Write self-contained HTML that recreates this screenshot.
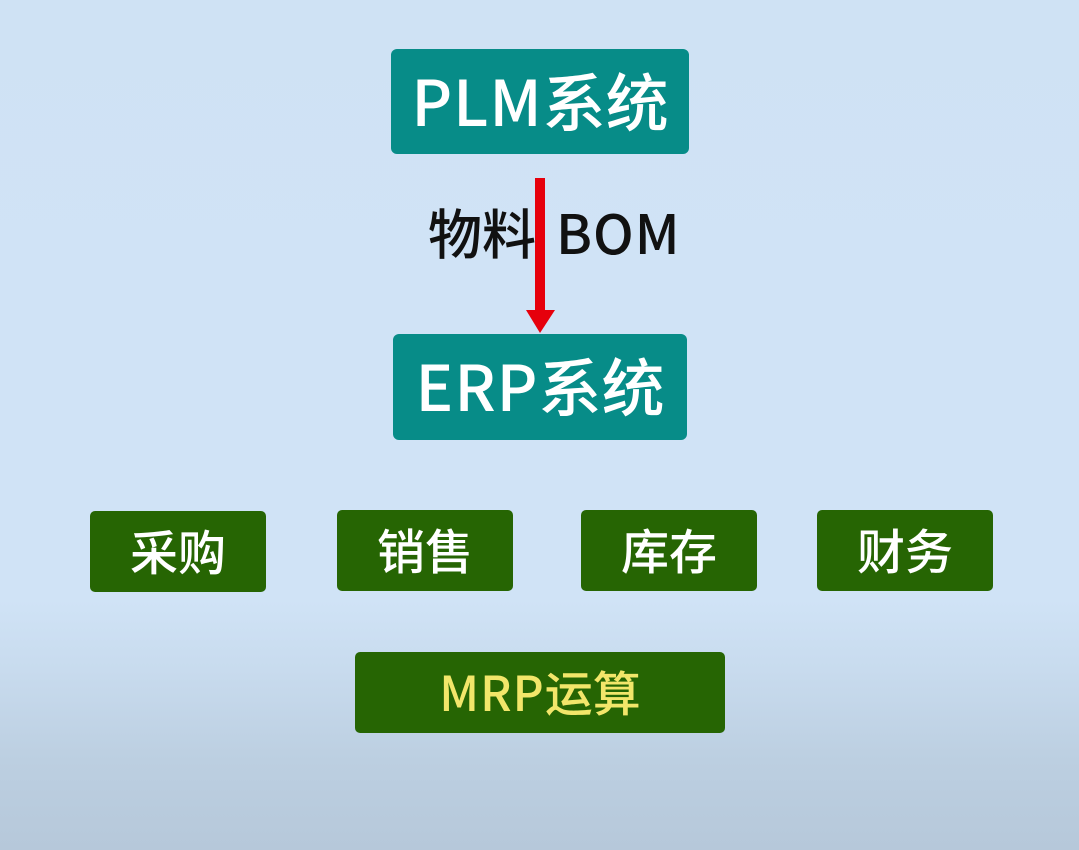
<!DOCTYPE html>
<html>
<head>
<meta charset="utf-8">
<style>
html,body{margin:0;padding:0}
body{width:1079px;height:850px;position:relative;overflow:hidden;
background:linear-gradient(180deg,#cfe2f4 0px,#d0e3f6 300px,#d0e3f6 600px,#c8dbee 670px,#bccfe1 760px,#b6c8da 850px);
font-family:"Noto Sans CJK SC","Liberation Sans",sans-serif;font-weight:500}
.b{position:absolute;display:flex;align-items:center;justify-content:center;border-radius:6px;box-sizing:border-box;white-space:nowrap}
.t{background:#078c88;color:#fff;font-size:63px;line-height:1;padding-bottom:5px}
.g{background:#266503;color:#fff;font-size:48px;line-height:1;border-radius:5px;padding-bottom:5px}
.l{position:absolute;white-space:nowrap;color:#111;font-size:54px;line-height:66px}
.s{letter-spacing:1px}
</style>
</head>
<body>
<div class="b t" style="left:391px;top:49px;width:298px;height:105px"><span class="s">PLM</span>系统</div>
<div class="l" style="left:428px;top:198px">物料<span style="display:inline-block;width:20px"></span><span class="s">BOM</span></div>
<svg style="position:absolute;left:0;top:0" width="1079" height="850">
<rect x="535" y="178" width="10" height="134" fill="#e6000c"/>
<polygon points="526,310 555,310 540,333" fill="#e6000c"/>
</svg>
<div class="b t" style="left:393px;top:334px;width:294px;height:106px"><span class="s">ERP</span>系统</div>
<div class="b g" style="left:90px;top:511px;width:176px;height:81px">采购</div>
<div class="b g" style="left:337px;top:510px;width:176px;height:81px">销售</div>
<div class="b g" style="left:581px;top:510px;width:176px;height:81px">库存</div>
<div class="b g" style="left:817px;top:510px;width:176px;height:81px">财务</div>
<div class="b g" style="left:355px;top:652px;width:370px;height:81px;color:#f2e66a"><span class="s">MRP</span>运算</div>
</body>
</html>
